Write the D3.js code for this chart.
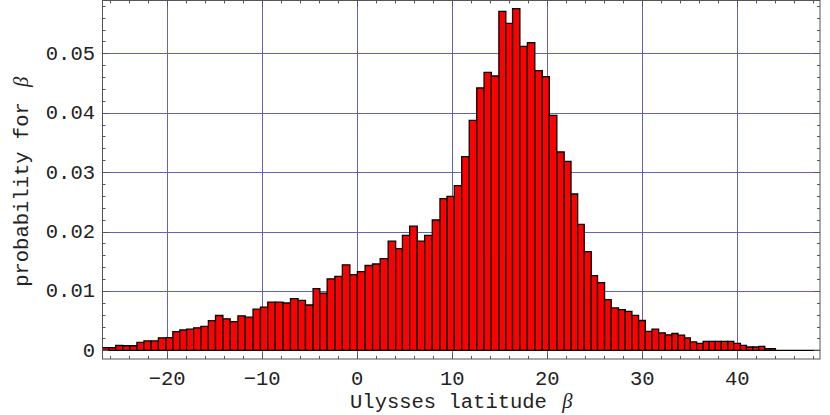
<!DOCTYPE html>
<html><head><meta charset="utf-8">
<script src="https://cdn.jsdelivr.net/npm/d3@7"></script>
<style>body{margin:0;background:#fff}svg{display:block}</style>
</head><body><svg id="c" width="830" height="415"></svg>
<script>
// bin edges (degrees of latitude); bins are not uniform
const binEdges = [-26.80,-26.11,-25.41,-24.67,-23.90,-23.18,-22.44,-21.69,-20.92,-20.11,
  -19.40,-18.66,-17.95,-17.21,-16.45,-15.66,-14.91,-14.13,-13.36,-12.55,
  -11.78,-10.96,-10.18,-9.41,-8.62,-7.80,-7.02,-6.22,-5.44,-4.64,
  -3.93,-3.16,-2.35,-1.56,-0.77,0.02,0.83,1.62,2.42,3.26,
  4.05,4.76,5.52,6.32,7.10,7.90,8.71,9.45,10.22,11.00,
  11.79,12.58,13.35,14.12,14.91,15.64,16.35,17.12,17.91,18.69,
  19.48,20.22,21.01,21.78,22.50,23.20,23.89,24.63,25.29,26.03,
  26.73,27.50,28.21,28.91,29.61,30.32,31.02,31.72,32.42,33.11,
  33.76,34.45,35.06,35.72,36.40,37.03,37.69,38.32,39.01,39.62,
  40.33,40.96,41.62,42.25,42.89,43.49,44.01,48.70];
// probability per bin
const probabilities = [0.00047,0.00047,0.00081,0.00077,0.00077,0.00133,0.00159,0.00159,0.00211,0.00215,
  0.00315,0.00342,0.00356,0.00378,0.00404,0.00500,0.00586,0.00530,0.00482,0.00580,
  0.00558,0.00693,0.00727,0.00813,0.00813,0.00797,0.00870,0.00840,0.00763,0.01040,
  0.00962,0.01204,0.01246,0.01440,0.01274,0.01324,0.01428,0.01453,0.01543,0.01838,
  0.01712,0.01934,0.02090,0.01838,0.01936,0.02194,0.02554,0.02593,0.02773,0.03261,
  0.03872,0.04416,0.04680,0.04618,0.05707,0.05505,0.05752,0.05118,0.05180,0.04708,
  0.04607,0.03956,0.03339,0.03181,0.02632,0.02121,0.01661,0.01257,0.01140,0.00853,
  0.00713,0.00685,0.00657,0.00589,0.00502,0.00320,0.00356,0.00295,0.00261,0.00283,
  0.00255,0.00210,0.00143,0.00118,0.00152,0.00152,0.00152,0.00152,0.00152,0.00118,
  0.00084,0.00056,0.00056,0.00067,0.00028,0.00028,0];
const xTickValues = [-20,-10,0,10,20,30,40];
const xTickLabels = ["\u221220","\u221210","0","10","20","30","40"];
const yTickValues = [0,0.01,0.02,0.03,0.04,0.05];
const yTickLabels = ["0","0.01","0.02","0.03","0.04","0.05"];
const xMinorStep = 2, yMinorStep = 0.002;
const xTitle = "Ulysses latitude ";
const yTitle = "probability for ";
const greekSymbol = "\u03b2";

const svg = d3.select("#c");
const P = {left:102.5, right:820, top:0.5, bottom:359};
const x = d3.scaleLinear().domain([-26.8, 48.7]).range([P.left, P.right]);
const y = d3.scaleLinear().domain([-0.00146, 0.05889]).range([P.bottom, P.top]);
const mono = "'Liberation Mono','Courier New',monospace";
const gridColor = "#6464b4";
const frameColor = "#555";
const textColor = "#222";
const fs = 20.5;

svg.append("rect").attr("width",830).attr("height",415).attr("fill","#fff");

svg.append("defs").append("clipPath").attr("id","pc").append("rect")
  .attr("x",P.left).attr("y",P.top).attr("width",P.right-P.left).attr("height",P.bottom-P.top);

// grid
const g = svg.append("g").attr("clip-path","url(#pc)");
g.selectAll("line.vx").data(xTickValues).join("line")
  .attr("x1",d=>Math.round(x(d))+0.5).attr("x2",d=>Math.round(x(d))+0.5)
  .attr("y1",P.top).attr("y2",P.bottom).attr("stroke",gridColor).attr("stroke-width",1);
g.selectAll("line.hy").data(yTickValues.filter(v=>v>0)).join("line")
  .attr("y1",d=>Math.round(y(d))+0.5).attr("y2",d=>Math.round(y(d))+0.5)
  .attr("x1",P.left).attr("x2",P.right).attr("stroke",gridColor).attr("stroke-width",1);

// bars
const bins = probabilities.map((v,i)=>({x0:binEdges[i], x1:binEdges[i+1], v}));
g.selectAll("path.bar").data(bins).join("path")
  .attr("d",d=>{
    const a=x(d.x0), b=x(d.x1), y0=y(0), yv=y(d.v);
    return `M${a},${y0}V${yv}H${b}V${y0}Z`;
  })
  .attr("fill","#ff0000").attr("stroke","#000").attr("stroke-width",1.3)
  .attr("stroke-linejoin","miter");

// frame
svg.append("rect").attr("x",P.left).attr("y",P.top).attr("width",P.right-P.left)
  .attr("height",P.bottom-P.top).attr("fill","none").attr("stroke",frameColor).attr("stroke-width",1);

// ticks
const xMinor = d3.range(-26, 49, xMinorStep);
const yMinor = d3.range(0, 0.0589, yMinorStep);
const tk = svg.append("g").attr("stroke",frameColor).attr("stroke-width",1);
xMinor.forEach(v=>{
  const major = xTickValues.includes(v); const L = major?6:3; const px = Math.round(x(v))+0.5;
  tk.append("line").attr("x1",px).attr("x2",px).attr("y1",P.bottom).attr("y2",P.bottom-L);
  tk.append("line").attr("x1",px).attr("x2",px).attr("y1",P.top).attr("y2",P.top+L);
});
yMinor.forEach((v,i)=>{
  const major = i%5===0; const L = major?6:3; const py = Math.round(y(v))+0.5;
  tk.append("line").attr("y1",py).attr("y2",py).attr("x1",P.left).attr("x2",P.left+L);
  tk.append("line").attr("y1",py).attr("y2",py).attr("x1",P.right).attr("x2",P.right-L);
});

// tick labels
svg.selectAll("text.xl").data(xTickValues).join("text")
  .attr("x",d=>x(d)).attr("y",385).attr("text-anchor","middle")
  .attr("font-family",mono).attr("font-size",fs).attr("fill",textColor)
  .text((d,i)=>xTickLabels[i]);
svg.selectAll("text.yl").data(yTickValues).join("text")
  .attr("x",95).attr("y",d=>y(d)+6.5).attr("text-anchor","end")
  .attr("font-family",mono).attr("font-size",fs).attr("fill",textColor)
  .text((d,i)=>yTickLabels[i]);

// axis titles
const xt = svg.append("text").attr("x",(P.left+P.right)/2).attr("y",408)
  .attr("text-anchor","middle").attr("font-family",mono).attr("font-size",fs).attr("fill",textColor);
xt.append("tspan").text(xTitle);
xt.append("tspan").attr("font-family","'Liberation Serif','Times New Roman',serif")
  .attr("font-style","italic").attr("dx",3).text(greekSymbol);

const yt = svg.append("text").attr("transform",`translate(28,${(P.top+P.bottom)/2+2}) rotate(-90)`)
  .attr("text-anchor","middle").attr("font-family",mono).attr("font-size",fs).attr("fill",textColor);
yt.append("tspan").text(yTitle);
yt.append("tspan").attr("font-family","'Liberation Serif','Times New Roman',serif")
  .attr("font-style","italic").attr("dx",3).text(greekSymbol);
</script></body></html>
